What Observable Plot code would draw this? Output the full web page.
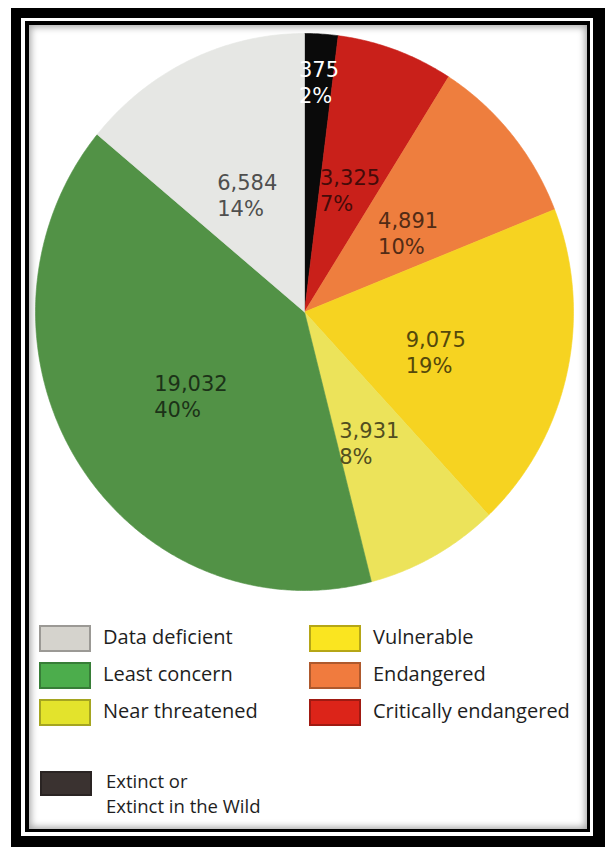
<!DOCTYPE html>
<html>
<head>
<meta charset="utf-8">
<script src="https://cdn.jsdelivr.net/npm/d3@7"></script>
<script src="https://cdn.jsdelivr.net/npm/@observablehq/plot@0.6"></script>
<style>
  html, body { margin: 0; padding: 0; background: #fff; }
  #wrap { position: relative; width: 608px; height: 847px; overflow: hidden; background: #fff; }
  #chart { position: absolute; left: 0; top: 0; }
  .frame-outer { position: absolute; left: 11px; top: 8px; width: 594px; height: 840px; box-sizing: border-box;
    border-style: solid; border-color: #000; border-width: 10px 12px 12px 10px; pointer-events: none; }
  .frame-inner { position: absolute; left: 25px; top: 21px; width: 565px; height: 811px; box-sizing: border-box;
    border: 4px solid #000; border-right-width: 3px; border-bottom-width: 3px;
    box-shadow: inset 0 0 7px 2px rgba(0,0,0,0.35); pointer-events: none; }
  .leg { position: absolute; font-family: "Open Sans", sans-serif; font-size: 20px; color: #1e1e1e; white-space: nowrap; }
  .sw { position: absolute; box-sizing: border-box; border: 2px solid; }
  .lt { position: absolute; line-height: 27px; }
</style>
</head>
<body>
<div id="wrap"><div id="chart"></div></div>
<script>
// ---- data ----
const categories = ["Extinct or Extinct in the Wild", "Critically endangered", "Endangered", "Vulnerable", "Near threatened", "Least concern", "Data deficient"];
const counts = [375, 3325, 4891, 9075, 3931, 19032, 6584];
const percents = [2, 7, 10, 19, 8, 40, 14];
const sliceColors = ["#0a0a0a", "#c9201a", "#ee7e3e", "#f6d321", "#ece35a", "#529246", "#e6e7e4"];

const legendCol1 = ["Data deficient", "Least concern", "Near threatened"];
const legendCol2 = ["Vulnerable", "Endangered", "Critically endangered"];
const legendExtinct = ["Extinct or", "Extinct in the Wild"];
const swatchColors = {
  "Data deficient": "#d5d3cd",
  "Least concern": "#4cad4c",
  "Near threatened": "#e3e32c",
  "Vulnerable": "#fae520",
  "Endangered": "#f07b3e",
  "Critically endangered": "#dc2419",
  "Extinct": "#3a3230"
};

// ---- pie geometry ----
const rows = categories.map((c, i) => ({cat: c, count: counts[i], pct: percents[i], color: sliceColors[i]}));
const arcs = d3.pie().sort(null).value(d => d.pct)(rows);

const step = Math.PI / 360;
const polyPoints = arcs.flatMap(a => {
  const n = Math.max(2, Math.ceil((a.endAngle - a.startAngle) / step));
  const pts = [{cat: a.data.cat, x: 0, y: 0}];
  for (let i = 0; i <= n; i++) {
    const t = a.startAngle + (a.endAngle - a.startAngle) * i / n;
    pts.push({cat: a.data.cat, x: Math.sin(t), y: Math.cos(t)});
  }
  pts.push({cat: a.data.cat, x: 0, y: 0});
  return pts;
});

// DejaVu Sans advance widths (em) for label centering
const adv = ch => (ch === "," ? 0.318 : ch === "%" ? 0.95 : 0.636);
const textW = (s, fs) => [...s].reduce((w, c) => w + adv(c), 0) * fs;
const fs = 21;

const labelMarks = arcs.map(a => {
  const mid = (a.startAngle + a.endAngle) / 2;
  const r = a.data.pct < 5 ? 0.86 : 0.5;
  const line1 = d3.format(",")(a.data.count);
  const line2 = a.data.pct + "%";
  const w = Math.max(textW(line1, fs), textW(line2, fs));
  const fill = a.data.pct < 5 ? "#ffffff" : d3.color(a.data.color).darker(3).formatHex();
  return Plot.text([{x: r * Math.sin(mid), y: r * Math.cos(mid), t: line1 + "\n" + line2}], {
    x: "x", y: "y", text: "t",
    textAnchor: "start", lineAnchor: "middle", lineHeight: 1.24,
    dx: -w / 2, dy: 9,
    fontSize: fs, fontFamily: "DejaVu Sans, sans-serif",
    fill
  });
});

const chart = Plot.plot({
  width: 608,
  height: 600,
  margin: 0,
  style: {background: "transparent", overflow: "visible"},
  x: {domain: [-1, 1], range: [35, 573], axis: null},
  y: {domain: [-1, 1], range: [590, 33], axis: null},
  color: {type: "ordinal", domain: categories, range: sliceColors},
  marks: [
    Plot.line(polyPoints, {x: "x", y: "y", z: "cat", fill: "cat", stroke: "cat", strokeWidth: 0.6, curve: "linear"}),
    ...labelMarks
  ]
});
document.getElementById("chart").append(chart);

// ---- legend (HTML, below the svg area) ----
const wrap = document.getElementById("wrap");
function addSwatch(color, left, top, h) {
  const sw = document.createElement("div");
  sw.className = "sw";
  const c = d3.color(color);
  Object.assign(sw.style, {left: left + "px", top: top + "px", width: "52px", height: h + "px",
    background: c.formatHex(), borderColor: c.darker(0.9).formatHex()});
  wrap.append(sw);
}
function addText(text, left, top, size, lh) {
  const tx = document.createElement("div");
  tx.className = "leg lt";
  tx.textContent = text;
  Object.assign(tx.style, {left: left + "px", top: top + "px", fontSize: size + "px", lineHeight: lh + "px"});
  wrap.append(tx);
}
legendCol1.forEach((l, i) => { addSwatch(swatchColors[l], 39, 625 + i * 37, 27); addText(l, 103, 623 + i * 37, 20, 27); });
legendCol2.forEach((l, i) => { addSwatch(swatchColors[l], 309, 625 + i * 37, 27); addText(l, 373, 623 + i * 37, 20, 27); });
addSwatch(swatchColors["Extinct"], 40, 771, 25);
legendExtinct.forEach((l, i) => addText(l, 106, 768 + i * 25, 18.5, 25));

// ---- frame ----
const fo = document.createElement("div"); fo.className = "frame-outer";
const fi = document.createElement("div"); fi.className = "frame-inner";
wrap.append(fo, fi);
</script>
</body>
</html>
